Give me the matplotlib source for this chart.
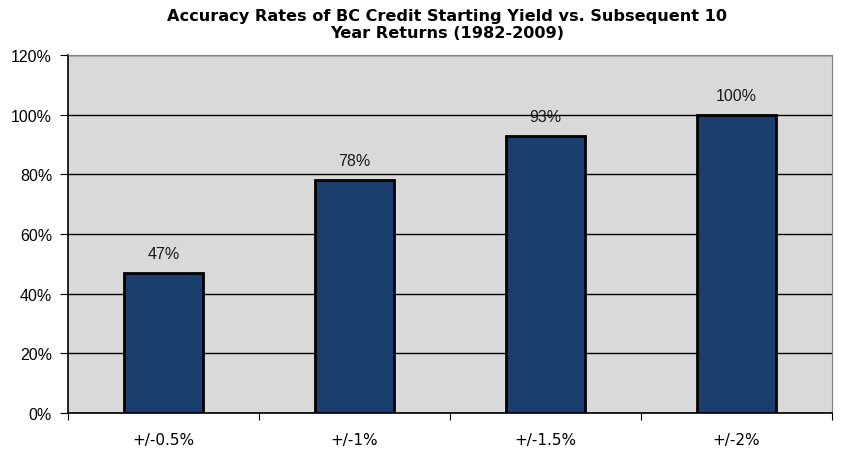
import numpy as np
import matplotlib
matplotlib.use('Agg')
import matplotlib.pyplot as plt

categories = ['+/-0.5%', '+/-1%', '+/-1.5%', '+/-2%']
accuracy = [47, 78, 93, 100]
bar_labels = ['47%', '78%', '93%', '100%']
yticks = [0, 20, 40, 60, 80, 100, 120]

fig = plt.figure(figsize=(8.46, 4.52), dpi=100)
ax = fig.add_axes([68 / 846, 1 - 414 / 452, (832 - 68) / 846, (414 - 56) / 452])
ax.set_facecolor('#D9D9D9')

x = np.arange(len(categories))
ax.bar(x, accuracy, width=0.41, color='#1A3F6F', edgecolor='black', linewidth=2, zorder=3)
for xi, v, lab in zip(x, accuracy, bar_labels):
    ax.text(xi, v + 4, lab, ha='center', va='bottom', fontsize=11.5,
            family='Liberation Sans', color='#1a1a1a')

ax.set_xlim(-0.5, len(categories) - 0.5)
ax.set_ylim(0, 120)
ax.set_yticks(yticks)
ax.set_yticklabels([f'{t}%' for t in yticks], family='Liberation Sans', fontsize=11.5)
ax.yaxis.grid(True, color='black', linewidth=1, zorder=0)
ax.set_axisbelow(True)

# category labels at centres, tick marks at the boundaries
ax.set_xticks(np.arange(-0.5, len(categories)), minor=False)
ax.set_xticklabels([])
ax.set_xticks(x, minor=True)
ax.set_xticklabels(categories, minor=True, family='DejaVu Sans', fontsize=11)
ax.tick_params(axis='x', which='minor', length=0, pad=14)
ax.tick_params(axis='x', which='major', length=5, direction='out', color='black')
ax.tick_params(axis='y', length=6, direction='out', pad=5.5)

for s in ['top', 'right']:
    ax.spines[s].set_color('#808080')
ax.spines['left'].set_linewidth(1.2)
ax.spines['bottom'].set_linewidth(1.2)

fig.text(447 / 846, 1 - 9 / 452,
         'Accuracy Rates of BC Credit Starting Yield vs. Subsequent 10\nYear Returns (1982-2009)',
         ha='center', va='top', fontsize=11.6, fontweight='bold', family='DejaVu Sans',
         linespacing=1.15)

fig.savefig('out.png', dpi=100)
